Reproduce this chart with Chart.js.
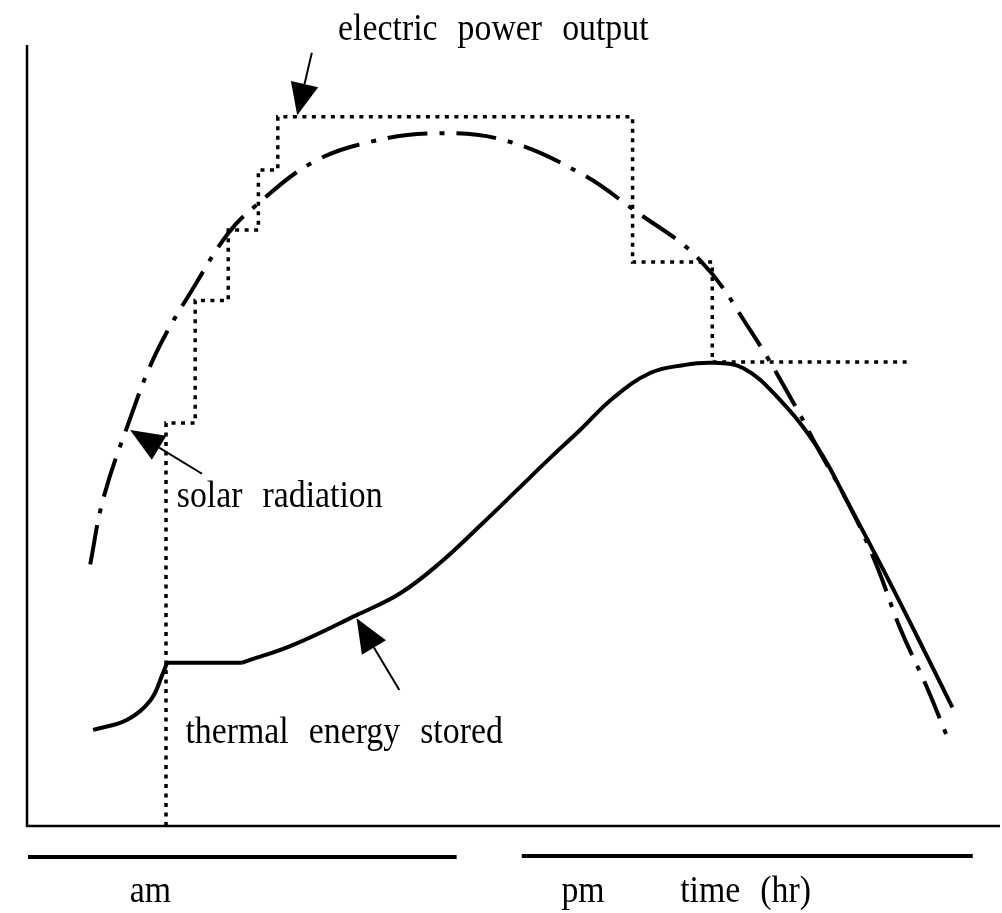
<!DOCTYPE html>
<html>
<head>
<meta charset="utf-8">
<script src="https://cdn.jsdelivr.net/npm/chart.js@4/dist/chart.umd.min.js"></script>
<style>
    html,body{margin:0;padding:0;background:#fff;}
    #wrap{width:1002px;height:913px;position:relative;}
</style>
</head>
<body>
<div id="wrap"><canvas id="chart"></canvas></div>
<script>
// values in arbitrary units: x = time (0-100 across the axis), y = magnitude (0-100)
const solarX = [6.4, 7.7, 10.2, 13.2, 17.3, 20.6, 23.3, 29.2, 35.2, 42.1, 49.0, 56.8, 62.3, 69.1, 74.3, 78.7, 81.2, 84.6, 87.3, 89.7, 92.5, 94.7];
const solarY = [33.5, 41.7, 51.1, 60.6, 69.5, 75.9, 79.3, 84.9, 87.6, 88.7, 87.8, 83.6, 78.9, 72.5, 63.5, 54.3, 48.5, 40.8, 33.4, 25.4, 17.7, 11.0];

// thermal energy stored: early charge curve, flat part, main hump
const thermalX = [6.7, 10.2, 12.6, 13.9, 14.3, 22.0, 27.3, 33.8, 38.3, 42.4, 46.8, 50.3, 53.7, 56.8, 60.2, 64.0, 67.4, 70.5, 73.6, 77.1, 81.2, 84.6, 88.0, 91.5, 95.1];
const thermalY = [12.3, 13.6, 16.1, 19.6, 20.9, 20.9, 23.2, 27.0, 29.8, 33.7, 38.8, 43.0, 47.1, 50.7, 54.8, 58.0, 59.0, 59.3, 58.6, 54.9, 48.5, 40.8, 32.8, 24.2, 15.2];
const thermalBreaks = [4, 5];   // corners where the curve is not smooth

// electric power output: each level ends at powerX (stepped, vertical first)
const powerX = [14.2, 17.2, 20.6, 23.7, 25.7, 62.2, 70.4, 90.9];
const powerY = [0, 51.6, 67.3, 76.3, 84.0, 90.8, 72.2, 59.4];

const periodLabels = ["am", "pm"];
const axisTitle = "time (hr)";

const pts = (xs, ys) => xs.map((v, i) => ({x: v, y: ys[i]}));
const thermalPts = pts(thermalX, thermalY);
const thermalParts = [
    thermalPts.slice(0, thermalBreaks[0] + 1),
    thermalPts.slice(thermalBreaks[0], thermalBreaks[1] + 1),
    thermalPts.slice(thermalBreaks[1])
];

const serif = '"Liberation Serif", "DejaVu Serif", serif';

// annotation placement (data units)
const notes = [
    {text: "electric power output", x: 31.9, y: 100.6},
    {text: "solar radiation", x: 15.3, y: 40.8},
    {text: "thermal energy stored", x: 16.2, y: 10.6}
];
const arrows = [
    {tip: [27.7, 91.0], tail: [29.2, 99.0], len: 32, half: 14},
    {tip: [10.5, 50.7], tail: [17.9, 45.1], len: 34, half: 14},
    {tip: [33.8, 26.6], tail: [38.2, 17.4], len: 34, half: 14}
];

function narrowText(ctx, text, x, y, align){
    ctx.save();
    ctx.translate(x, y);
    ctx.scale(0.89, 1);
    ctx.textAlign = align || "left";
    ctx.fillText(text, 0, 0);
    ctx.restore();
}

const overlay = {
    id: "overlay",
    beforeDatasetsDraw(chart){
        const {ctx, chartArea:a} = chart;
        ctx.save();
        ctx.strokeStyle = "#000";
        ctx.lineWidth = 2.5;
        ctx.beginPath();
        ctx.moveTo(a.left - 1, a.top);
        ctx.lineTo(a.left - 1, a.bottom);
        ctx.lineTo(a.right, a.bottom);
        ctx.stroke();
        ctx.restore();
    },
    afterDraw(chart){
        const {ctx, chartArea:a, scales:{x, y}} = chart;
        ctx.save();
        ctx.fillStyle = "#000";
        ctx.strokeStyle = "#000";

        // am / pm bars under the axis
        ctx.lineWidth = 4;
        ctx.beginPath();
        ctx.moveTo(x.getPixelForValue(0), a.bottom + 31);
        ctx.lineTo(x.getPixelForValue(44.1), a.bottom + 31);
        ctx.moveTo(x.getPixelForValue(50.8), a.bottom + 30);
        ctx.lineTo(x.getPixelForValue(97.2), a.bottom + 30);
        ctx.stroke();

        ctx.font = "38px " + serif;
        ctx.textBaseline = "alphabetic";
        if ("wordSpacing" in ctx) ctx.wordSpacing = "13px";
        narrowText(ctx, periodLabels[0], x.getPixelForValue(12.6), a.bottom + 76, "center");
        narrowText(ctx, periodLabels[1], x.getPixelForValue(57.1), a.bottom + 76, "center");
        narrowText(ctx, axisTitle, x.getPixelForValue(67.1), a.bottom + 76);

        notes.forEach(n => narrowText(ctx, n.text, x.getPixelForValue(n.x), y.getPixelForValue(n.y)));

        arrows.forEach(ar => {
            const tx = x.getPixelForValue(ar.tip[0]), ty = y.getPixelForValue(ar.tip[1]);
            const sx = x.getPixelForValue(ar.tail[0]), sy = y.getPixelForValue(ar.tail[1]);
            const ang = Math.atan2(ty - sy, tx - sx);
            const bx = tx - ar.len * Math.cos(ang), by = ty - ar.len * Math.sin(ang);
            ctx.lineWidth = 2;
            ctx.beginPath();
            ctx.moveTo(sx, sy);
            ctx.lineTo(bx, by);
            ctx.stroke();
            ctx.beginPath();
            ctx.moveTo(tx, ty);
            ctx.lineTo(bx + ar.half * Math.sin(ang), by - ar.half * Math.cos(ang));
            ctx.lineTo(bx - ar.half * Math.sin(ang), by + ar.half * Math.cos(ang));
            ctx.closePath();
            ctx.fill();
        });
        ctx.restore();
    }
};

const lineBase = {borderColor:"#000", backgroundColor:"#000", pointRadius:0, fill:false, clip:false};

new Chart(document.getElementById("chart"), {
    type: "line",
    data: {
        datasets: [
            Object.assign({label:"solar radiation", data:pts(solarX, solarY), borderWidth:4, borderDash:[40,12,5,12], tension:0.4}, lineBase),
            ...thermalParts.map(p => Object.assign({label:"thermal energy stored", data:p, borderWidth:4, tension:0.4}, lineBase)),
            Object.assign({label:"electric power output", data:pts(powerX, powerY), borderWidth:3.5, borderDash:[4,5.5], stepped:"after"}, lineBase)
        ]
    },
    options: {
        responsive: true,
        maintainAspectRatio: false,
        animation: false,
        layout: { padding: {left:28, right:2, top:45, bottom:87} },
        plugins: { legend:{display:false}, tooltip:{enabled:false} },
        scales: {
            x: { type:"linear", min:0, max:100, display:false },
            y: { min:0, max:100, display:false }
        }
    },
    plugins: [overlay]
});
</script>
</body>
</html>
